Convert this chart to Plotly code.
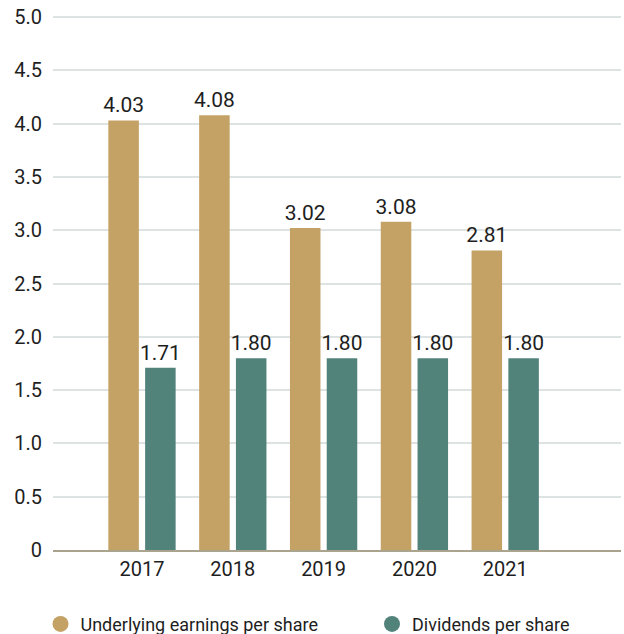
import plotly.graph_objects as go

years = ["2017", "2018", "2019", "2020", "2021"]
earnings = [4.03, 4.08, 3.02, 3.08, 2.81]
dividends = [1.71, 1.80, 1.80, 1.80, 1.80]
y_ticks = [0, 0.5, 1.0, 1.5, 2.0, 2.5, 3.0, 3.5, 4.0, 4.5, 5.0]
y_tick_labels = ["0", "0.5", "1.0", "1.5", "2.0", "2.5", "3.0", "3.5", "4.0", "4.5", "5.0"]
series_names = ["Underlying earnings per share", "Dividends per share"]

GOLD = "#c4a265"
TEAL = "#52837b"
FONT = "Roboto"
TXT = "#1e1e1e"

fig = go.Figure()
for vals, color in [(earnings, GOLD), (dividends, TEAL)]:
    fig.add_trace(go.Bar(
        x=years, y=vals, marker=dict(color=color, line=dict(width=0)),
        text=[f"{v:.2f}" for v in vals], textposition="outside",
        constraintext="none",
        textfont=dict(family=FONT, size=21, color=TXT),
        cliponaxis=False, showlegend=False, hoverinfo="skip",
    ))

for name, color, lg in zip(series_names, [GOLD, TEAL], ["legend", "legend2"]):
    fig.add_trace(go.Scatter(
        x=[None], y=[None], mode="markers", name=name, legend=lg,
        marker=dict(symbol="circle", size=19, color=color),
    ))

legend_common = dict(
    orientation="h", xanchor="left", yanchor="middle",
    font=dict(family=FONT, size=18, color=TXT), itemwidth=30,
    bgcolor="rgba(0,0,0,0)",
)

fig.update_layout(
    width=624, height=634,
    margin=dict(l=53, r=3, t=16, b=84, autoexpand=False),
    plot_bgcolor="white", paper_bgcolor="white",
    barmode="group", bargap=0.19, bargroupgap=0.17,
    font=dict(family=FONT, size=20, color=TXT),
    showlegend=True,
    legend=dict(x=-0.022, y=-0.139, **legend_common),
    legend2=dict(x=0.5616, y=-0.139, **legend_common),
    xaxis=dict(
        type="category", range=[-0.98, 5.275],
        showgrid=False, showline=True, linecolor="#aaa48f", linewidth=2,
        ticks="", tickfont=dict(family=FONT, size=20, color=TXT),
        zeroline=False,
    ),
    yaxis=dict(
        range=[0, 5.01], tickvals=y_ticks, ticktext=y_tick_labels,
        showgrid=True, gridcolor="#dde3e3", gridwidth=1.5,
        zeroline=False, showline=False, ticks="", ticklabelstandoff=10,
        tickfont=dict(family=FONT, size=20, color=TXT),
    ),
)

fig.write_html(
    "out.html",
    config={"displayModeBar": False},
    post_script="document.body.style.margin='0';document.body.style.overflow='hidden';",
)
